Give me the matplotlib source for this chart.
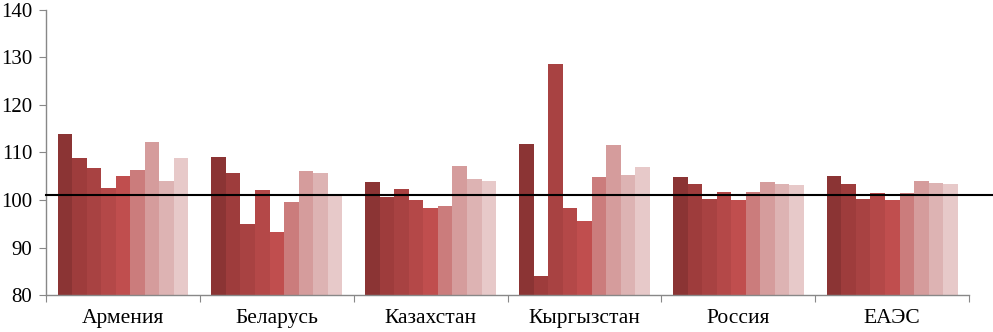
import numpy as np
import matplotlib
matplotlib.use("Agg")
import matplotlib.pyplot as plt

plt.rcParams['font.family'] = ['Liberation Serif', 'DejaVu Serif']

countries = ["Армения", "Беларусь", "Казахстан", "Кыргызстан", "Россия", "ЕАЭС"]

# 9 series per country (one value per country)
armenia = [113.8, 108.8, 106.8, 102.5, 105.1, 106.4, 112.2, 104.0, 108.8]
belarus = [109.1, 105.7, 95.0, 102.0, 93.2, 99.6, 106.0, 105.6, 101.0]
kazakhstan = [103.7, 100.6, 102.3, 100.1, 98.3, 98.8, 107.2, 104.4, 104.0]
kyrgyzstan = [111.8, 84.0, 128.6, 98.3, 95.5, 104.9, 111.5, 105.3, 106.9]
russia = [104.9, 103.3, 100.3, 101.7, 100.1, 101.7, 103.7, 103.4, 103.2]
eaeu = [105.1, 103.3, 100.3, 101.5, 99.9, 101.5, 104.0, 103.6, 103.3]

ref_level = 101.1

colors = ["#8b3434", "#9e3c3c", "#a84242", "#b44848", "#c04e4e",
          "#cb7c7c", "#d59c9c", "#ddb3b3", "#e7c9c9"]

data = np.array([armenia, belarus, kazakhstan, kyrgyzstan, russia, eaeu])
n_groups, n_series = data.shape

fig = plt.figure(figsize=(9.93, 3.32), dpi=100)
ax = fig.add_axes([0.0463, 0.1114, 0.976 - 0.0463, 0.970 - 0.1114])

group_w = 0.85
bw = group_w / n_series
x = np.arange(n_groups)
for i in range(n_series):
    ax.bar(x - group_w / 2 + bw * (i + 0.5), data[:, i] - 80, bottom=80,
           width=bw, color=colors[i], linewidth=0, zorder=2)

ax.set_xlim(-0.5, n_groups - 0.5)
ax.set_ylim(80, 140)
ax.set_yticks(np.arange(80, 141, 10))
ax.tick_params(axis='y', labelsize=15, length=5, color='#888888', pad=5)

# category boundaries as ticks, labels in centre
ax.set_xticks(np.arange(-0.5, n_groups, 1.0))
ax.set_xticklabels([])
ax.set_xticks(x, minor=True)
ax.set_xticklabels(countries, minor=True, fontsize=15.5)
ax.tick_params(axis='x', which='major', length=5, color='#888888')
ax.tick_params(axis='x', which='minor', length=0, pad=10)

for s in ['top', 'right']:
    ax.spines[s].set_visible(False)
for s in ['left', 'bottom']:
    ax.spines[s].set_color('#888888')
    ax.spines[s].set_linewidth(1)

# reference line runs past the axis end to the figure edge
ax.plot([0, 1.03], [ref_level, ref_level], transform=ax.get_yaxis_transform(),
        color='black', linewidth=1.5, clip_on=False, zorder=3)

fig.savefig("out.png", dpi=100)
